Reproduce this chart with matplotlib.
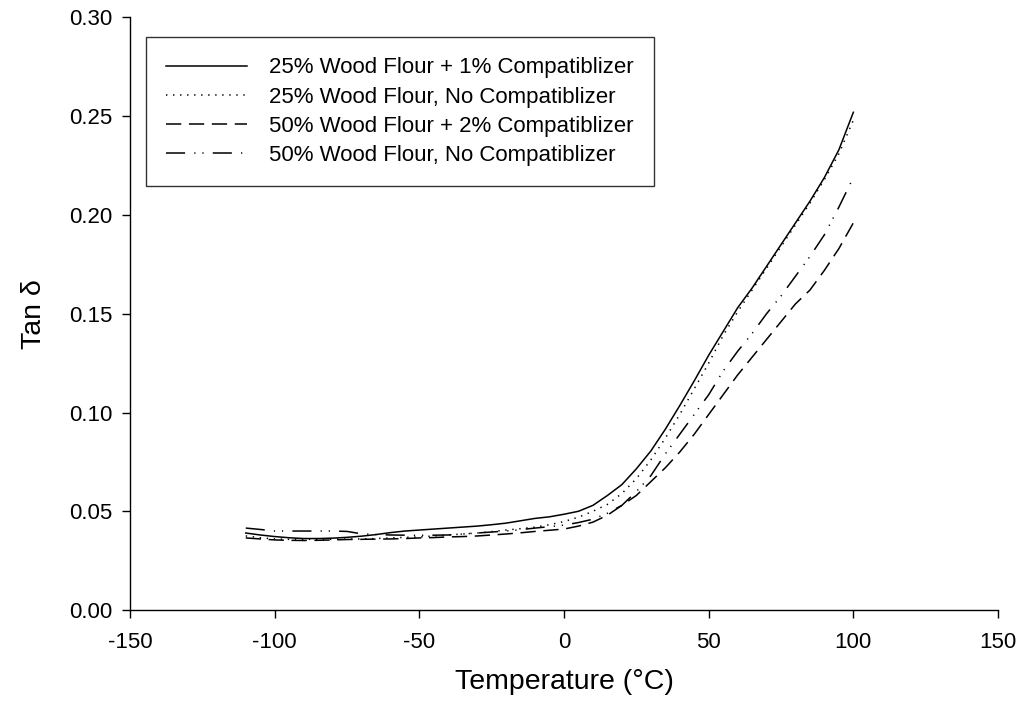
import matplotlib
matplotlib.use("Agg")
import matplotlib.pyplot as plt
from matplotlib.ticker import FormatStrFormatter

plt.rcParams['font.family'] = ['Liberation Sans', 'DejaVu Sans']
plt.rcParams['axes.unicode_minus'] = False

temperature = [-110, -105, -100, -95, -90, -85, -80, -75, -70, -65, -60, -55, -50, -45,
               -40, -35, -30, -25, -20, -15, -10, -5, 0, 5, 10, 15, 20, 25, 30, 35, 40,
               45, 50, 55, 60, 65, 70, 75, 80, 85, 90, 95, 100]

wf25_comp1 = [0.0390, 0.0380, 0.0372, 0.0366, 0.0362, 0.0362, 0.0364, 0.0368, 0.0374, 0.0382,
              0.0392, 0.0400, 0.0405, 0.0410, 0.0415, 0.0420, 0.0425, 0.0432, 0.0440, 0.0452,
              0.0464, 0.0472, 0.0485, 0.0500, 0.0530, 0.0580, 0.0635, 0.0715, 0.0805, 0.0915,
              0.1035, 0.1160, 0.1290, 0.1410, 0.1530, 0.1630, 0.1740, 0.1850, 0.1960, 0.2070,
              0.2190, 0.2330, 0.2520]

wf25_nocomp = [0.0375, 0.0366, 0.0360, 0.0358, 0.0358, 0.0358, 0.0358, 0.0359, 0.0360, 0.0362,
               0.0365, 0.0368, 0.0370, 0.0375, 0.0380, 0.0385, 0.0390, 0.0397, 0.0405, 0.0412,
               0.0420, 0.0432, 0.0448, 0.0470, 0.0500, 0.0535, 0.0590, 0.0665, 0.0760, 0.0870,
               0.0990, 0.1120, 0.1250, 0.1390, 0.1510, 0.1620, 0.1730, 0.1840, 0.1950, 0.2060,
               0.2180, 0.2310, 0.2480]

wf50_comp2 = [0.0365, 0.0360, 0.0355, 0.0353, 0.0352, 0.0353, 0.0355, 0.0357, 0.0358, 0.0359,
              0.0360, 0.0362, 0.0365, 0.0367, 0.0370, 0.0372, 0.0375, 0.0380, 0.0385, 0.0391,
              0.0398, 0.0404, 0.0410, 0.0425, 0.0445, 0.0480, 0.0530, 0.0580, 0.0650, 0.0720,
              0.0800, 0.0890, 0.0990, 0.1090, 0.1190, 0.1280, 0.1370, 0.1460, 0.1550, 0.1620,
              0.1720, 0.1830, 0.1960]

wf50_nocomp = [0.0415, 0.0408, 0.0400, 0.0400, 0.0400, 0.0400, 0.0400, 0.0398, 0.0386, 0.0382,
               0.0380, 0.0379, 0.0378, 0.0379, 0.0380, 0.0385, 0.0390, 0.0395, 0.0400, 0.0407,
               0.0415, 0.0422, 0.0430, 0.0443, 0.0460, 0.0490, 0.0530, 0.0600, 0.0680, 0.0790,
               0.0890, 0.0990, 0.1090, 0.1210, 0.1310, 0.1400, 0.1500, 0.1590, 0.1690, 0.1790,
               0.1900, 0.2040, 0.2190]

labels = ["25% Wood Flour + 1% Compatiblizer",
          "25% Wood Flour, No Compatiblizer",
          "50% Wood Flour + 2% Compatiblizer",
          "50% Wood Flour, No Compatiblizer"]

x_ticks = [-150, -100, -50, 0, 50, 100, 150]
y_ticks = [0.00, 0.05, 0.10, 0.15, 0.20, 0.25, 0.30]

fig = plt.figure(figsize=(10.19, 7.11), dpi=100)
ax = fig.add_axes([0.1276, 0.142, 0.8518, 0.8334])

lw = 1.1
ax.plot(temperature, wf25_comp1, color='black', lw=lw, linestyle='-', label=labels[0])
ax.plot(temperature, wf25_nocomp, color='black', lw=lw, linestyle=(0, (0.9, 3.7)), label=labels[1])
ax.plot(temperature, wf50_comp2, color='black', lw=lw, linestyle=(0, (10, 5)), label=labels[2])
ax.plot(temperature, wf50_nocomp, color='black', lw=lw,
        linestyle=(0, (12.5, 6, 0.8, 4.5, 0.8, 6)), label=labels[3])

ax.set_xlim(-150, 150)
ax.set_ylim(0, 0.30)
ax.set_xticks(x_ticks)
ax.set_yticks(y_ticks)
ax.yaxis.set_major_formatter(FormatStrFormatter('%.2f'))

for s in ['top', 'right']:
    ax.spines[s].set_visible(False)
for s in ['left', 'bottom']:
    ax.spines[s].set_linewidth(1.0)

ax.tick_params(direction='out', length=6, width=1.0, labelsize=16)
ax.tick_params(axis='x', pad=10)
ax.tick_params(axis='y', pad=6.5)
ax.set_xlabel("Temperature (°C)", fontsize=20.5, labelpad=11)
ax.set_ylabel("Tan δ", fontsize=20.5, labelpad=16)

leg = ax.legend(loc='upper left', bbox_to_anchor=(0.0184, 0.967), borderaxespad=0,
                fontsize=16, frameon=True, fancybox=False, handlelength=3.63,
                handletextpad=1.0, labelspacing=0.365, borderpad=0.92)
leg.get_frame().set_edgecolor('black')
leg.get_frame().set_linewidth(1.0)

fig.savefig("out.png", dpi=100)
